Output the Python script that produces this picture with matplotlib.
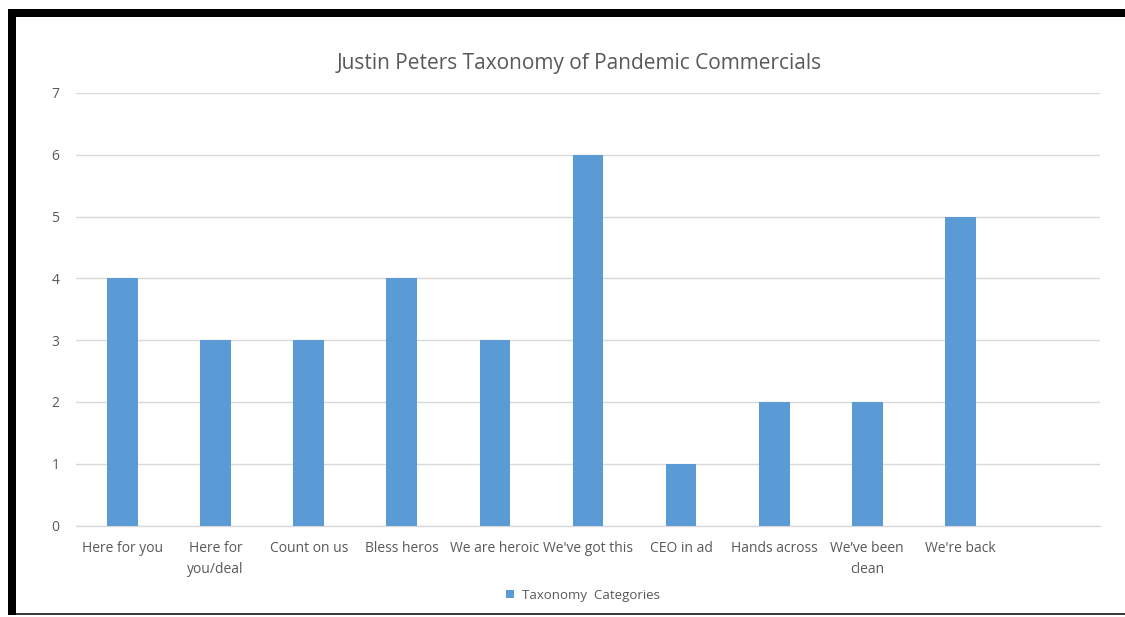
import matplotlib
matplotlib.use('Agg')
import matplotlib.pyplot as plt
from matplotlib.patches import Rectangle

# Chart data
categories = ['Here for you', 'Here for\nyou/deal', 'Count on us', 'Bless heros',
              'We are heroic', "We've got this", 'CEO in ad', 'Hands across',
              'We\u2019ve been\nclean', "We're back"]
counts = [4, 3, 3, 4, 3, 6, 1, 2, 2, 5]
y_ticks = [0, 1, 2, 3, 4, 5, 6, 7]
series_name = 'Taxonomy  Categories'
title = 'Justin Peters Taxonomy of Pandemic Commercials'

BAR_COLOR = '#5B9BD5'
TEXT_COLOR = '#595959'
GRID_COLOR = '#D9D9D9'

plt.rcParams['font.family'] = ['Open Sans', 'DejaVu Sans']

W, H = 1125, 617
fig = plt.figure(figsize=(W / 100, H / 100), dpi=100)
fig.patch.set_facecolor('white')

ax = fig.add_axes([76 / W, 1 - 525.5 / H, (1100 - 76) / W, (525.5 - 93) / H])
x = list(range(len(categories)))
bars = ax.bar(x, counts, width=0.33, color=BAR_COLOR, label=series_name, zorder=3)

ax.set_xlim(-0.5, 10.5)
ax.set_ylim(0, 7)
ax.set_yticks(y_ticks)
ax.set_xticks(x)
ax.set_xticklabels(categories, fontsize=10, color=TEXT_COLOR, linespacing=1.55)
ax.tick_params(axis='y', labelsize=10, labelcolor=TEXT_COLOR, length=0, pad=12)
ax.tick_params(axis='x', length=0, pad=11)
for t in ax.get_xticklabels():
    t.set_verticalalignment('top')

ax.grid(axis='y', color=GRID_COLOR, linewidth=1, zorder=0)
for side in ['top', 'right', 'left']:
    ax.spines[side].set_visible(False)
ax.spines['bottom'].set_color(GRID_COLOR)
ax.spines['bottom'].set_linewidth(1)

fig.text(579 / W, 1 - 63 / H, title, ha='center', va='center',
         fontsize=15, color=TEXT_COLOR)

fig.legend(handles=[bars], labels=[series_name], loc='center',
           bbox_to_anchor=(583 / W, 1 - 595 / H), frameon=False,
           fontsize=9.5, labelcolor=TEXT_COLOR, handlelength=0.6,
           handleheight=0.6, handletextpad=0.6)

# black frame from the screenshot
fig.add_artist(Rectangle((8 / W, 1 - 17 / H), 1 - 8 / W, 8 / H,
                         transform=fig.transFigure, color='black', lw=0))
fig.add_artist(Rectangle((8 / W, 1 - 615 / H), 8 / W, (615 - 9) / H,
                         transform=fig.transFigure, color='black', lw=0))
fig.add_artist(Rectangle((16 / W, 1 - 615 / H), 1 - 16 / W, 2 / H,
                         transform=fig.transFigure, color='#3a3a3a', lw=0))

fig.savefig('out.png', dpi=100)
